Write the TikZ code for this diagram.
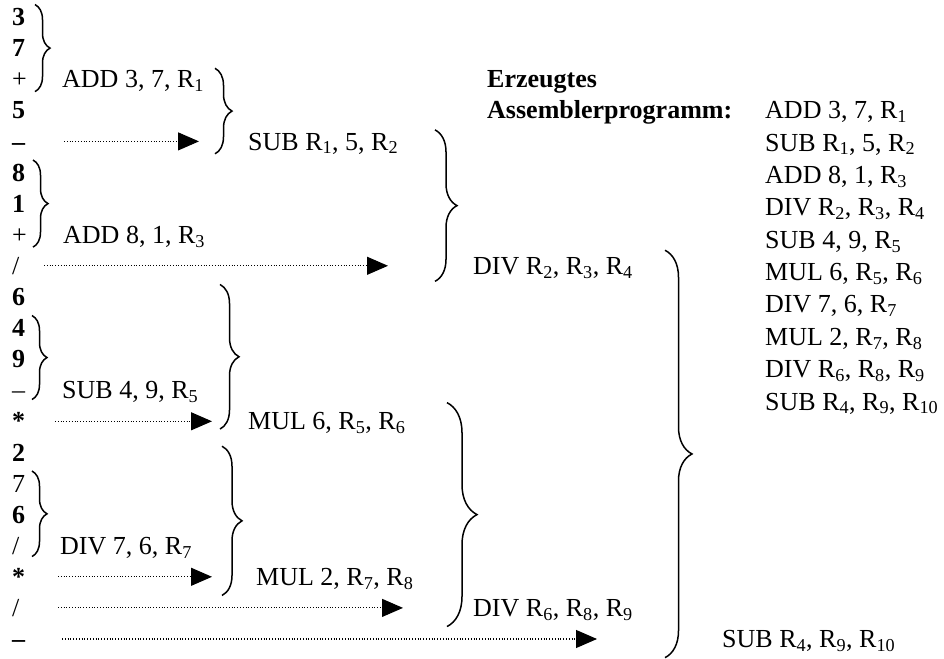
\documentclass[tikz,border=0pt]{standalone}
\usepackage{fontspec}
\setmainfont{Liberation Serif}
\usetikzlibrary{arrows.meta,decorations.pathreplacing}

\newcommand{\rg}[1]{R\textsubscript{#1}}

\begin{document}
\begin{tikzpicture}[x=1pt,y=-31.1pt,
	tok/.style={anchor=base west,inner sep=0pt,font=\fontsize{26}{31}\selectfont},
	flow/.style={line width=1.1pt,dash pattern=on 1pt off 1.8pt,-{Triangle[length=21pt,width=18pt]}},
	cbrace/.style={line width=1.5pt,decorate,decoration={brace,amplitude=#1}}]
	\useasboundingbox (0,0.4534) rectangle (944,21.643);
	% postfix input, one symbol per row
	\foreach \t [count=\i] in {{\textbf{3}},{\textbf{7}},+,{\textbf{5}},{\textbf{--}},{\textbf{8}},{\textbf{1}},+,/,
		{\textbf{6}},{\textbf{4}},{\textbf{9}},--,{\textbf{*}},{\textbf{2}},7,{\textbf{6}},/,{\textbf{*}},/,{\textbf{--}}}
		\node[tok] (tok\i) at (12,\i+0.277) {\t};
	% generated instructions
	\node[tok] (add1) at (62,3.277) {ADD 3, 7, \rg{1}};
	\node[tok] (sub2) at (248,5.277) {SUB \rg{1}, 5, \rg{2}};
	\node[tok] (add3) at (63,8.277) {ADD 8, 1, \rg{3}};
	\node[tok] (div4) at (473,9.277) {DIV \rg{2}, \rg{3}, \rg{4}};
	\node[tok] (sub5) at (62,13.277) {SUB 4, 9, \rg{5}};
	\node[tok] (mul6) at (248,14.277) {MUL 6, \rg{5}, \rg{6}};
	\node[tok] (div7) at (60,18.277) {DIV 7, 6, \rg{7}};
	\node[tok] (mul8) at (256,19.277) {MUL 2, \rg{7}, \rg{8}};
	\node[tok] (div9) at (473,20.277) {DIV \rg{6}, \rg{8}, \rg{9}};
	\node[tok] (sub10) at (722,21.277) {SUB \rg{4}, \rg{9}, \rg{10}};
	% program listing
	\node[tok,font=\fontsize{26}{31}\selectfont\bfseries] (head1) at (487,3.277) {Erzeugtes};
	\node[tok,font=\fontsize{26}{31}\selectfont\bfseries] (head2) at (487,4.277) {Assemblerprogramm:};
	\foreach \s [count=\k from 0] in {{ADD 3, 7, \rg{1}},{SUB \rg{1}, 5, \rg{2}},{ADD 8, 1, \rg{3}},
		{DIV \rg{2}, \rg{3}, \rg{4}},{SUB 4, 9, \rg{5}},{MUL 6, \rg{5}, \rg{6}},{DIV 7, 6, \rg{7}},
		{MUL 2, \rg{7}, \rg{8}},{DIV \rg{6}, \rg{8}, \rg{9}},{SUB \rg{4}, \rg{9}, \rg{10}}}
		\node[tok] (lst\k) at (765,4+1.04*\k+0.277) {\s};
	% dotted arrows
	\foreach \r/\xa/\xb in {5/64/199,9/44/388,14/55/212,19/58/212,20/58/403,21/62/597}{
		\coordinate (s\r) at (\xa,\r);
		\coordinate (e\r) at (\xb,\r);
		\draw[flow] (s\r) -- (e\r);
	}
	% braces
	\foreach \x/\a/\ya/\yb in {35/15/0.6/3.4,33/15/5.6/8.4,32/15/10.6/13.3,32/15/15.6/18.35,
		215/17/2.65/5.4,435/22/4.63/9.5,220/19/9.6/14.25,222/20/14.8/19.6,
		447/30/13.4/20.6,665/27/8.5/21.6}
		\draw[cbrace=\a] (\x,\ya) -- (\x,\yb);
\end{tikzpicture}
\end{document}
